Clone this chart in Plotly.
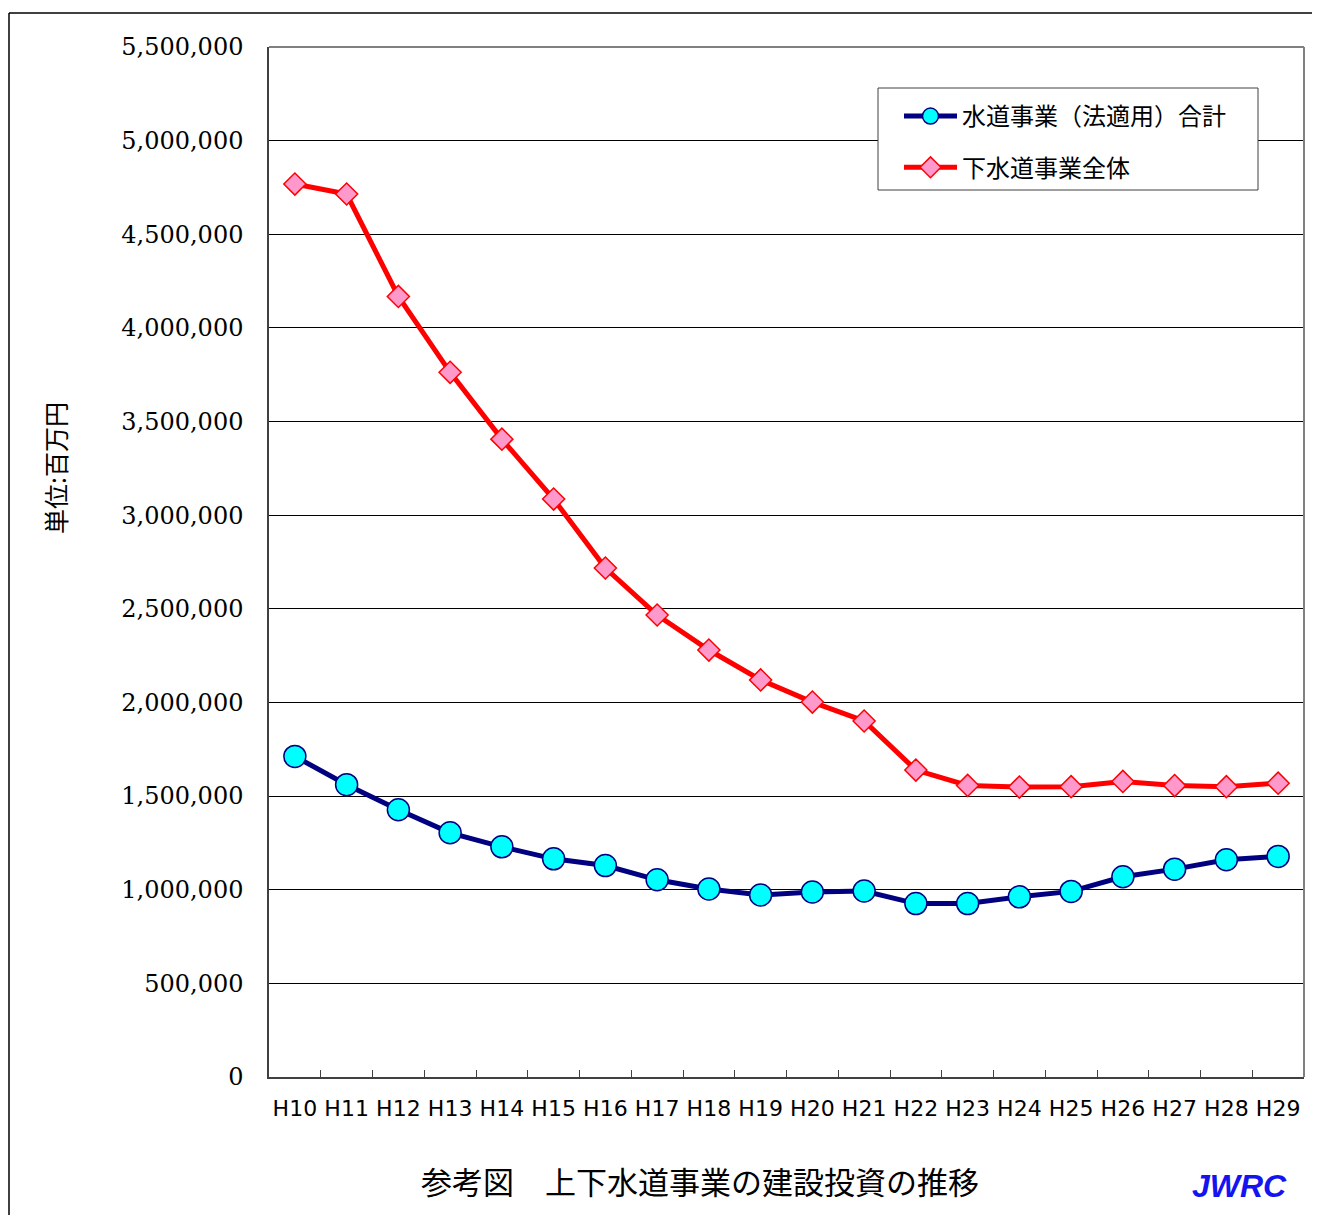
import plotly.graph_objects as go

# fiscal years (Heisei)
years = ["H10", "H11", "H12", "H13", "H14", "H15", "H16", "H17", "H18", "H19",
         "H20", "H21", "H22", "H23", "H24", "H25", "H26", "H27", "H28", "H29"]

# unit: million yen
water_supply = [1712000, 1561000, 1427000, 1304000, 1229000, 1165000, 1129000, 1053000, 1004000, 972000,
                988000, 993000, 926000, 926000, 962000, 991000, 1069000, 1110000, 1160000, 1178000]
sewerage = [4768000, 4715000, 4168000, 3763000, 3406000, 3086000, 2718000, 2467000, 2280000, 2120000,
            2002000, 1901000, 1639000, 1557000, 1548000, 1550000, 1578000, 1556000, 1550000, 1569000]

series_names = ["水道事業（法適用）合計", "下水道事業全体"]
y_ticks = [0, 500000, 1000000, 1500000, 2000000, 2500000, 3000000, 3500000, 4000000, 4500000, 5000000, 5500000]

# page body has an 8px margin, so the figure is a bit smaller than the window
OFF = 8
W, H = 1320 - 2 * OFF, 1223 - 2 * OFF
L, T = 269 - OFF, 47 - OFF
R = W - (1304 - OFF)
B = H - (1077 - OFF)
pw, ph = W - L - R, H - T - B


def px(x):
    # window pixel -> paper x
    return (x - OFF - L) / pw


def py(y):
    # window pixel -> paper y
    return (H - B - (y - OFF)) / ph


fig = go.Figure()
fig.add_trace(go.Scatter(
    x=years, y=water_supply, name=series_names[0], mode="lines+markers",
    line=dict(color="#000080", width=5),
    marker=dict(symbol="circle", size=22, color="#00FFFF", line=dict(color="#000080", width=1.5)),
    legendgroup="a"))
fig.add_trace(go.Scatter(
    x=years, y=sewerage, name=series_names[1], mode="lines+markers",
    line=dict(color="#FF0000", width=5),
    marker=dict(symbol="diamond", size=17, color="#FF99CC", line=dict(color="#FF0000", width=1.5)),
    legendgroup="b"))

fig.update_xaxes(type="category", range=[-0.5, len(years) - 0.5], tickson="boundaries",
                 ticks="inside", ticklen=7, tickcolor="#404040", tickangle=0,
                 showline=True, linecolor="#404040", linewidth=1.5, showgrid=False,
                 tickfont=dict(family="DejaVu Sans", size=22, color="black"), ticklabelstandoff=11)
fig.update_yaxes(range=[0, 5500000], tickvals=y_ticks, tickformat=",d",
                 showline=True, linecolor="#404040", linewidth=1.5,
                 showgrid=True, gridcolor="#000000", gridwidth=1, zeroline=False,
                 tickfont=dict(family="DejaVu Serif", size=24, color="black"), ticklabelstandoff=19)

shapes = [
    # outer frame (top and left edges)
    dict(type="line", xref="paper", yref="paper", x0=px(9), x1=1.05, y0=py(13), y1=py(13),
         line=dict(color="black", width=1.5)),
    dict(type="line", xref="paper", yref="paper", x0=px(9), x1=px(9), y0=py(13), y1=-0.2,
         line=dict(color="black", width=1.5)),
    # plot area top/right border
    dict(type="line", xref="paper", yref="paper", x0=0, x1=1, y0=1, y1=1,
         line=dict(color="#808080", width=2)),
    dict(type="line", xref="paper", yref="paper", x0=1, x1=1, y0=0, y1=1,
         line=dict(color="#808080", width=2)),
    # legend box
    dict(type="rect", xref="paper", yref="paper", x0=px(878), x1=px(1258), y0=py(190), y1=py(88),
         fillcolor="white", line=dict(color="#404040", width=1), layer="above"),
]

annotations = [
    dict(text="単位:百万円", xref="paper", yref="paper", x=px(55), y=py(468), textangle=-90,
         xanchor="center", yanchor="middle", showarrow=False,
         font=dict(family="Noto Sans CJK JP", size=25, color="black")),
    dict(text="参考図　上下水道事業の建設投資の推移", xref="paper", yref="paper", x=px(700), y=py(1180),
         xanchor="center", yanchor="middle", showarrow=False,
         font=dict(family="Noto Sans CJK JP", size=31, color="black")),
    dict(text="<b><i>JWRC</i></b>", xref="paper", yref="paper", x=px(1239), y=py(1186),
         xanchor="center", yanchor="middle", showarrow=False,
         font=dict(family="Liberation Sans", size=32, color="#1414F0")),
]

fig.update_layout(
    width=W, height=H,
    margin=dict(l=L, r=R, t=T, b=B, pad=0),
    paper_bgcolor="white", plot_bgcolor="white",
    showlegend=True,
    legend=dict(x=px(899), y=py(94), xanchor="left", yanchor="top",
                bgcolor="rgba(0,0,0,0)", borderwidth=0,
                font=dict(family="Noto Sans CJK JP", size=24, color="black"),
                traceorder="grouped", tracegroupgap=17, itemwidth=53),
    shapes=shapes,
    annotations=annotations,
)

fig.write_html("out.html")
